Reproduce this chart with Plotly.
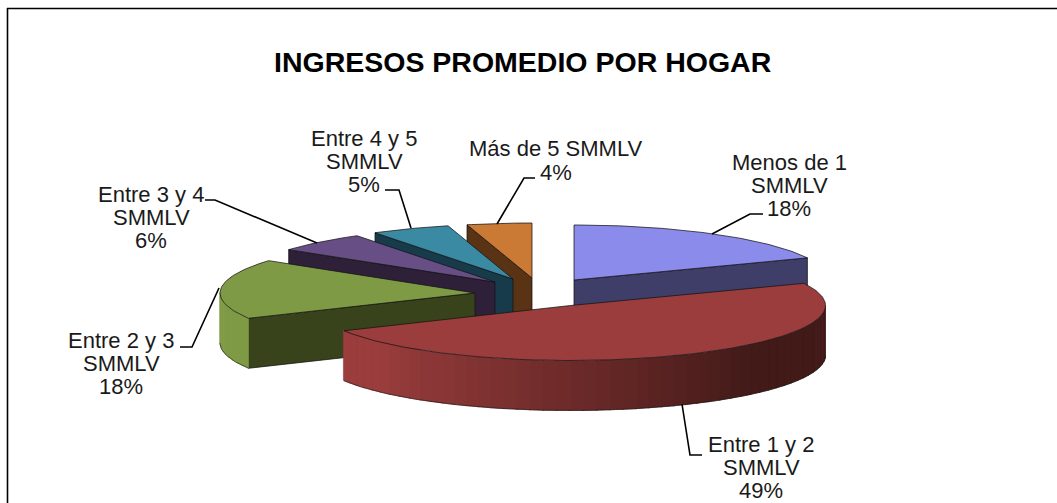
import math
import plotly.graph_objects as go

# ---- data ----
categories = ["Menos de 1 SMMLV", "Entre 1 y 2 SMMLV", "Entre 2 y 3 SMMLV",
              "Entre 3 y 4 SMMLV", "Entre 4 y 5 SMMLV", "Más de 5 SMMLV"]
values = [18.4, 49.0, 17.6, 5.9, 5.0, 4.1]
title_text = "INGRESOS PROMEDIO POR HOGAR"

# ---- layout / style (page pixels) ----
W, H = 1057, 503
RX, RY, DEPTH = 255, 55, 50
slice_centers = [(574, 280), (570.5, 305.5), (475, 293), (495, 282), (513, 279), (532, 278)]
top_colors = ["#8B8BEB", "#9B3D3D", "#7F9A45", "#674E85", "#3B8AA3", "#CB7A36"]
face_colors = ["#3E3E68", "#421A18", "#38431C", "#2D2038", "#173B4A", "#5A3315"]
paint_order = [0, 5, 4, 3, 2, 1]
label_lines = [
    (["Menos de 1", "SMMLV"], 789, [162, 185, 208]),
    (["Entre 1 y 2", "SMMLV"], 761, [444, 467, 490]),
    (["Entre 2 y 3", "SMMLV"], 121, [340, 363, 386]),
    (["Entre 3 y 4", "SMMLV"], 151, [194, 217, 240]),
    (["Entre 4 y 5", "SMMLV"], 364, [138, 161, 184]),
    (["Más de 5 SMMLV"], 556, [148, 172]),
]
leaders = [
    [(712, 234), (750, 214), (763, 214)],
    [(682, 404), (690, 455), (702, 455)],
    [(219, 288), (192, 347), (180, 347)],
    [(317, 243), (215, 200), (205, 200)],
    [(411, 228), (399, 190), (385, 190)],
    [(497, 224), (524, 178), (535, 178)],
]
FONT = "Liberation Sans"
LABEL_SIZE = 22
TEXT = "#1a1a1a"
EDGE = "rgba(20,20,20,0.75)"


def hex_rgb(c):
    return tuple(int(c[i:i + 2], 16) for i in (1, 3, 5))


def mix(a, b, f):
    ra, rb = hex_rgb(a), hex_rgb(b)
    return "rgb(%d,%d,%d)" % tuple(round(x + (y - x) * f) for x, y in zip(ra, rb))


def rim(c, t, dz=0):
    r = math.radians(t)
    return c[0] + RX * math.sin(r), c[1] - RY * math.cos(r) + dz


def poly(fig, pts, fill, line=None):
    xs = [p[0] for p in pts] + [pts[0][0]]
    ys = [p[1] for p in pts] + [pts[0][1]]
    fig.add_trace(go.Scatter(
        x=xs, y=ys, mode="lines", fill="toself", fillcolor=fill,
        line=dict(color=line or fill, width=1 if line else 0.6),
        hoverinfo="skip", showlegend=False))


def arc(c, t0, t1, dz=0, step=1.0):
    n = max(2, int(abs(t1 - t0) / step) + 1)
    return [rim(c, t0 + (t1 - t0) * i / (n - 1), dz) for i in range(n)]


total = sum(values)
spans = []
acc = 0.0
for v in values:
    a0 = acc / total * 360
    acc += v
    spans.append((a0, acc / total * 360))

fig = go.Figure()

for i in paint_order:
    c = slice_centers[i]
    t0, t1 = spans[i]
    top, face = top_colors[i], face_colors[i]
    base = (c[0], c[1] + DEPTH)
    if math.sin(math.radians(t1)) > 0.01:
        poly(fig, [c, rim(c, t1), rim(c, t1, DEPTH), base], face, EDGE)
    if math.sin(math.radians(t0)) < -0.01:
        poly(fig, [c, rim(c, t0), rim(c, t0, DEPTH), base], face, EDGE)
    a, b = max(t0, 90), min(t1, 270)
    if b > a:
        t = a
        while t < b:
            e = min(t + 3, b)
            f = min(1, max(0, ((t + e) / 2 - 135) / 95))
            poly(fig, arc(c, t, e + 0.3) + arc(c, e + 0.3, t, DEPTH), mix(face, top, f))
            t = e
        outline = arc(c, a, b, DEPTH)
        fig.add_trace(go.Scatter(x=[p[0] for p in outline], y=[p[1] for p in outline],
                                 mode="lines", line=dict(color=EDGE, width=0.8),
                                 hoverinfo="skip", showlegend=False))
    poly(fig, [c] + arc(c, t0, t1), top, EDGE)

shapes = [
    dict(type="line", x0=7, y0=8.5, x1=1057, y1=8.5, line=dict(color="black", width=1.6)),
    dict(type="line", x0=7.5, y0=8, x1=7.5, y1=503, line=dict(color="black", width=1.6)),
]
for pts in leaders:
    path = "M " + " L ".join(f"{x},{y}" for x, y in pts)
    shapes.append(dict(type="path", path=path, line=dict(color="black", width=1.6)))

annotations = [dict(x=522, y=62, text=f"<b>{title_text}</b>", showarrow=False,
                    xanchor="center", yanchor="middle",
                    font=dict(family=FONT, size=28.5, color="black"))]
for (lines, cx, ys), v in zip(label_lines, values):
    for line, y in zip(lines + [f"{round(v)}%"], ys):
        annotations.append(dict(x=cx, y=y, text=line, showarrow=False,
                                xanchor="center", yanchor="middle",
                                font=dict(family=FONT, size=LABEL_SIZE, color=TEXT)))

fig.update_layout(
    width=W, height=H, margin=dict(l=0, r=0, t=0, b=0),
    paper_bgcolor="white", plot_bgcolor="white", showlegend=False,
    xaxis=dict(range=[0, W], visible=False, fixedrange=True),
    yaxis=dict(range=[H, 0], visible=False, fixedrange=True),
    shapes=shapes, annotations=annotations,
)
fig.write_html("out.html", config=dict(displayModeBar=False),
               post_script="document.body.style.margin='0';document.body.style.overflow='hidden';")
